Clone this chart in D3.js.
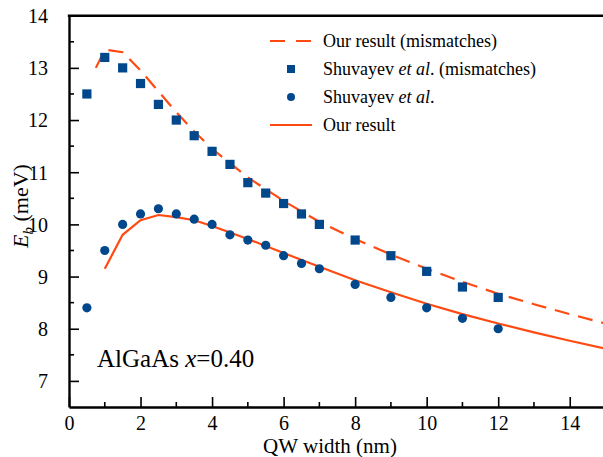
<!DOCTYPE html>
<html>
<head>
<meta charset="utf-8">
<script src="https://cdn.jsdelivr.net/npm/d3@7"></script>
<style>
  body { margin: 0; background: #fff; }
</style>
</head>
<body>
<div id="chart"></div>
<script>
// Shuvayev et al. (mismatches) - squares
var sqX = [0.5, 1, 1.5, 2, 2.5, 3, 3.5, 4, 4.5, 5, 5.5, 6, 6.5, 7, 8, 9, 10, 11, 12];
var sqY = [12.5, 13.2, 13.0, 12.7, 12.3, 12.0, 11.7, 11.4, 11.15, 10.8, 10.6, 10.4, 10.2, 10.0, 9.7, 9.4, 9.1, 8.8, 8.6];

// Shuvayev et al. - circles
var ciX = [0.5, 1, 1.5, 2, 2.5, 3, 3.5, 4, 4.5, 5, 5.5, 6, 6.5, 7, 8, 9, 10, 11, 12];
var ciY = [8.4, 9.5, 10.0, 10.2, 10.3, 10.2, 10.1, 10.0, 9.8, 9.7, 9.6, 9.4, 9.25, 9.15, 8.85, 8.6, 8.4, 8.2, 8.0];

// Our result (mismatches) - dashed
var dashX = [0.75, 1, 1.5, 2, 2.5, 3, 3.5, 4, 5, 6, 7, 8, 9, 10, 11, 12, 13, 14, 15];
var dashY = [13.0, 13.35, 13.3, 12.95, 12.55, 12.15, 11.78, 11.45, 10.9, 10.45, 10.05, 9.72, 9.42, 9.15, 8.9, 8.67, 8.47, 8.28, 8.1];

// Our result - solid
var solX = [1, 1.5, 2, 2.5, 3, 3.5, 4, 5, 6, 7, 8, 9, 10, 11, 12, 13, 14, 15];
var solY = [9.15, 9.8, 10.08, 10.18, 10.14, 10.08, 9.97, 9.72, 9.45, 9.19, 8.93, 8.7, 8.48, 8.28, 8.1, 7.93, 7.77, 7.62];

var xTicks = [0, 2, 4, 6, 8, 10, 12, 14];
var yTicks = [7, 8, 9, 10, 11, 12, 13, 14];

var W = 603, H = 457;
var orange = "#ff4a12", blue = "#00478c";
var serif = "'Liberation Serif', Tinos, 'Noto Serif', 'Nimbus Roman', 'Nimbus Roman No9 L', FreeSerif, 'DejaVu Serif', 'Times New Roman', Times, serif";

var x = d3.scaleLinear().domain([0, 15]).range([69, 605.5]);
var y = d3.scaleLinear().domain([6.5, 14]).range([407, 15.7]);

var svg = d3.select("#chart").append("svg")
    .attr("width", W).attr("height", H)
    .style("font-family", serif);

function zip(a, b) { return a.map(function(v, i) { return [v, b[i]]; }); }

var line = d3.line()
    .x(function(d) { return x(d[0]); })
    .y(function(d) { return y(d[1]); });

svg.append("path")
    .datum(zip(dashX, dashY))
    .attr("d", line)
    .attr("fill", "none")
    .attr("stroke", orange)
    .attr("stroke-width", 2.2)
    .attr("stroke-dasharray", "15,9");

svg.append("path")
    .datum(zip(solX, solY))
    .attr("d", line)
    .attr("fill", "none")
    .attr("stroke", orange)
    .attr("stroke-width", 2.2);

svg.selectAll(".sq")
    .data(zip(sqX, sqY)).enter()
    .append("rect")
    .attr("class", "sq")
    .attr("x", function(d) { return x(d[0]) - 4.6; })
    .attr("y", function(d) { return y(d[1]) - 4.6; })
    .attr("width", 9.2).attr("height", 9.2)
    .attr("fill", blue);

svg.selectAll(".ci")
    .data(zip(ciX, ciY)).enter()
    .append("circle")
    .attr("class", "ci")
    .attr("cx", function(d) { return x(d[0]); })
    .attr("cy", function(d) { return y(d[1]); })
    .attr("r", 4.6)
    .attr("fill", blue);

// axes, ticks inward
var xAxis = d3.axisBottom(x).tickValues(xTicks).tickSizeInner(-10).tickSizeOuter(0).tickPadding(9);
var yAxis = d3.axisLeft(y).tickValues(yTicks).tickSizeInner(-10).tickSizeOuter(0).tickPadding(21);

var gx = svg.append("g").attr("transform", "translate(0," + y(6.5) + ")").call(xAxis);
var gy = svg.append("g").attr("transform", "translate(" + x(0) + ",0)").call(yAxis);

[gx, gy].forEach(function(g) {
    g.attr("font-family", null).attr("font-size", 20);
    g.select(".domain").attr("stroke", "#000").attr("stroke-width", 2.4);
    g.selectAll(".tick line").attr("stroke", "#000").attr("stroke-width", 1.6);
    g.selectAll(".tick text").attr("fill", "#000").style("font-family", serif);
});
gx.selectAll(".tick text").attr("dy", "0.71em");
gy.selectAll(".tick text").attr("dy", "0.34em");

// minor ticks
svg.append("g").selectAll("line")
    .data(d3.range(1, 15, 2)).enter().append("line")
    .attr("x1", function(d) { return x(d); }).attr("x2", function(d) { return x(d); })
    .attr("y1", y(6.5)).attr("y2", y(6.5) - 5)
    .attr("stroke", "#000").attr("stroke-width", 1.6);
svg.append("g").selectAll("line")
    .data(d3.range(7.5, 14, 1)).enter().append("line")
    .attr("y1", function(d) { return y(d); }).attr("y2", function(d) { return y(d); })
    .attr("x1", x(0)).attr("x2", x(0) + 5)
    .attr("stroke", "#000").attr("stroke-width", 1.6);

// top frame
svg.append("line")
    .attr("x1", x(0) - 1.2).attr("x2", W)
    .attr("y1", y(14)).attr("y2", y(14))
    .attr("stroke", "#000").attr("stroke-width", 2.4);

// axis labels
svg.append("text")
    .attr("x", 330).attr("y", 453)
    .attr("text-anchor", "middle")
    .attr("font-size", 21)
    .text("QW width (nm)");

var yl = svg.append("text")
    .attr("transform", "translate(28,206) rotate(-90)")
    .attr("text-anchor", "middle")
    .attr("font-size", 22);
yl.append("tspan").attr("font-style", "italic").text("E");
yl.append("tspan").attr("font-style", "italic").attr("font-size", 15).attr("dy", 5).text("b");
yl.append("tspan").attr("dy", -5).text("\u00a0(meV)");

// annotation
var ann = svg.append("text")
    .attr("x", 97).attr("y", 367)
    .attr("font-size", 25);
ann.append("tspan").text("AlGaAs ");
ann.append("tspan").attr("font-style", "italic").text("x");
ann.append("tspan").text("=0.40");

// legend
var legendRows = [
    { type: "dash", parts: [["Our result (mismatches)", false]] },
    { type: "square", parts: [["Shuvayev ", false], ["et al", true], [". (mismatches)", false]] },
    { type: "circle", parts: [["Shuvayev ", false], ["et al", true], [".", false]] },
    { type: "solid", parts: [["Our result", false]] }
];

var legend = svg.selectAll(".legend")
    .data(legendRows).enter().append("g")
    .attr("class", "legend")
    .attr("transform", function(d, i) { return "translate(0," + (41 + i * 28) + ")"; });

legend.each(function(d) {
    var g = d3.select(this);
    if (d.type === "dash") {
        g.append("line").attr("x1", 270).attr("x2", 312).attr("y1", 0).attr("y2", 0)
            .attr("stroke", orange).attr("stroke-width", 2.2).attr("stroke-dasharray", "15,11");
    } else if (d.type === "solid") {
        g.append("line").attr("x1", 270).attr("x2", 312).attr("y1", 0).attr("y2", 0)
            .attr("stroke", orange).attr("stroke-width", 2.2);
    } else if (d.type === "square") {
        g.append("rect").attr("x", 291 - 4).attr("y", -4).attr("width", 8).attr("height", 8).attr("fill", blue);
    } else {
        g.append("circle").attr("cx", 291).attr("cy", 0).attr("r", 4).attr("fill", blue);
    }
    var t = g.append("text").attr("x", 323).attr("y", 6).attr("font-size", 18);
    d.parts.forEach(function(p) {
        t.append("tspan").attr("font-style", p[1] ? "italic" : "normal").text(p[0]);
    });
});
</script>
</body>
</html>
